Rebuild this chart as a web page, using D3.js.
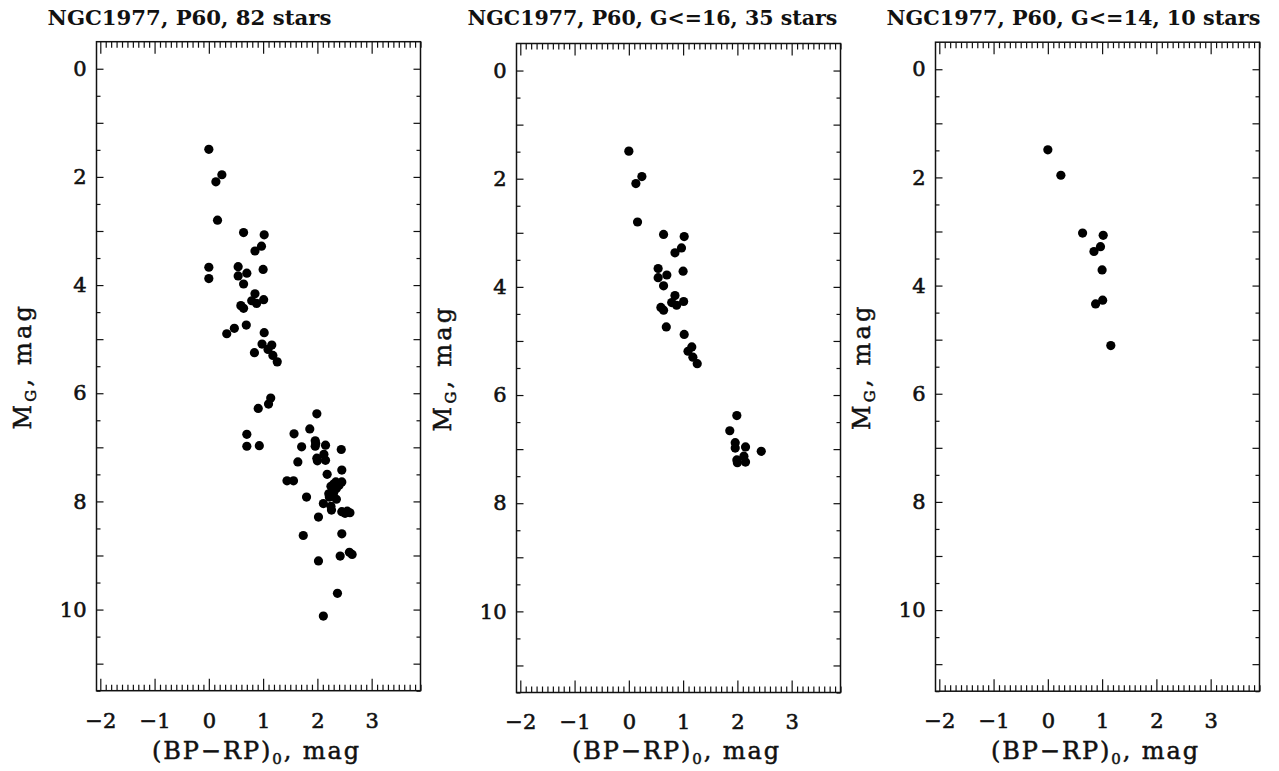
<!DOCTYPE html>
<html><head><meta charset="utf-8">
<script src="https://cdn.jsdelivr.net/npm/d3@7"></script>
<style>body{margin:0;background:#fff}svg{display:block}</style>
</head><body>
<svg id="c" width="1279" height="771"></svg>
<script>
// ---- data ----
const titles = ["NGC1977, P60, 82 stars", "NGC1977, P60, G<=16, 35 stars", "NGC1977, P60, G<=14, 10 stars"];
const xTickLabels = [-2, -1, 0, 1, 2, 3];
const yTickLabels = [0, 2, 4, 6, 8, 10];

const p1x = [0.00,0.24,0.13,0.16,0.64,1.02,0.97,0.85,0.00,0.00,0.54,0.54,0.70,1.00,0.64,0.85,1.01,0.79,0.88,0.59,
  0.64,0.69,0.47,0.33,1.02,0.98,1.16,1.09,0.84,1.18,1.26,1.14,1.10,0.91,0.70,1.57,1.86,1.99,0.70,0.93,
  1.71,1.96,1.96,2.15,1.99,2.15,2.12,1.64,2.18,1.44,1.56,1.80,2.11,2.02,1.74,2.02,2.11,2.44,2.45,2.34,
  2.45,2.25,2.35,2.21,2.35,2.25,2.26,2.45,2.51,2.60,2.45,2.59,2.64,2.42,2.37,2.00,2.30,2.40,2.30,2.55,
  2.22,1.97];
const p1y = [1.49,1.96,2.09,2.80,3.03,3.07,3.28,3.37,3.67,3.88,3.66,3.83,3.78,3.71,3.98,4.16,4.27,4.29,4.34,4.38,
  4.43,4.74,4.80,4.90,4.88,5.09,5.11,5.19,5.25,5.30,5.42,6.09,6.20,6.28,6.76,6.75,6.66,6.38,6.98,6.97,
  6.99,6.88,6.98,6.96,7.20,7.24,7.13,7.27,7.50,7.62,7.62,7.92,8.04,8.29,8.63,9.10,10.12,7.04,7.42,7.64,
  7.64,7.72,7.76,7.86,7.96,8.09,8.16,8.19,8.22,8.21,8.60,8.94,8.98,9.01,9.70,7.25,7.68,7.70,7.84,8.18,
  7.92,6.93];

const p2x = [0.00,0.24,0.13,0.16,0.64,1.02,0.97,0.85,0.54,0.54,0.70,1.00,0.64,0.85,1.01,0.79,0.88,0.59,0.64,0.69,
  1.02,1.16,1.09,1.18,1.26,1.99,1.86,1.96,1.96,2.15,2.44,1.99,2.12,2.15,2.00];
const p2y = [1.49,1.96,2.09,2.80,3.03,3.07,3.28,3.37,3.66,3.83,3.78,3.71,3.98,4.16,4.27,4.29,4.34,4.38,4.43,4.74,
  4.88,5.11,5.19,5.30,5.42,6.38,6.66,6.88,6.98,6.96,7.04,7.20,7.13,7.24,7.25];

const p3x = [0.00,0.24,0.64,1.02,0.97,0.85,1.00,1.01,0.88,1.16];
const p3y = [1.49,1.96,3.03,3.07,3.28,3.37,3.71,4.27,4.34,5.11];

const xDomain = [-2.07, 3.9];
const yDomain = [-0.5, 11.5];

// ---- layout ----
const lefts = [96.5, 516.5, 935.5];
const tops = [41.7, 43.5, 42.2];
const pw = 324, ph = 649;
const titleWidths = [284, 370, 374];

const svg = d3.select("#c");
const font = "'DejaVu Serif', serif";
const ink = "#111";
const series = [[p1x,p1y],[p2x,p2y],[p3x,p3y]];

const minorX = d3.range(-20, 40).map(d => d/10).filter(d => Math.abs(d - Math.round(d)) > 1e-6);
const majorY = d3.range(0, 12);
const minorY = d3.range(0, 12).map(d => d + 0.5);

function fitSpacing(t, target) {
  const w = t.node().getComputedTextLength();
  const n = t.text().length;
  t.attr("letter-spacing", Math.max(0, (target - w) / n));
}

series.forEach(([xs, ys], i) => {
  const g = svg.append("g").attr("transform", `translate(${lefts[i]},${tops[i]})`);
  const x = d3.scaleLinear().domain(xDomain).range([0, pw]);
  const y = d3.scaleLinear().domain(yDomain).range([0, ph]);

  const style = sel => { sel.select(".domain").remove(); sel.selectAll("line").attr("stroke", ink).attr("stroke-width", 1.2); };
  const lab = s => s.selectAll("text").attr("font-family", font).attr("font-size", 21)
      .attr("fill", ink).attr("stroke", ink).attr("stroke-width", 0.6);

  // bottom axis
  g.append("g").attr("transform", `translate(0,${ph})`)
    .call(d3.axisBottom(x).tickValues(minorX).tickSize(-6).tickFormat("")).call(style);
  g.append("g").attr("transform", `translate(0,${ph})`)
    .call(d3.axisBottom(x).tickValues(xTickLabels).tickSize(-12).tickPadding(22)
      .tickFormat(d => d < 0 ? "\u2212" + Math.abs(d) : String(d)))
    .call(style).call(lab);
  // top axis
  g.append("g").call(d3.axisTop(x).tickValues(minorX).tickSize(-6).tickFormat("")).call(style);
  g.append("g").call(d3.axisTop(x).tickValues(xTickLabels).tickSize(-12).tickFormat("")).call(style);
  // left axis
  g.append("g").call(d3.axisLeft(y).tickValues(minorY).tickSize(-4).tickFormat("")).call(style);
  g.append("g").call(d3.axisLeft(y).tickValues(majorY).tickSize(-7).tickPadding(10)
      .tickFormat(d => yTickLabels.includes(d) ? String(d) : ""))
    .call(style).call(lab);
  // right axis
  g.append("g").attr("transform", `translate(${pw},0)`)
    .call(d3.axisRight(y).tickValues(minorY).tickSize(-4).tickFormat("")).call(style);
  g.append("g").attr("transform", `translate(${pw},0)`)
    .call(d3.axisRight(y).tickValues(majorY).tickSize(-7).tickFormat("")).call(style);

  // frame
  g.append("rect").attr("width", pw).attr("height", ph)
    .attr("fill", "none").attr("stroke", ink).attr("stroke-width", 1.5);

  // points
  g.append("g").selectAll("circle").data(d3.range(xs.length)).join("circle")
    .attr("cx", k => x(xs[k])).attr("cy", k => y(ys[k])).attr("r", 4.6).attr("fill", "#000");

  // title
  const t = svg.append("text").attr("x", lefts[i] - 49).attr("y", 25)
    .attr("font-family", font).attr("font-weight", "bold").attr("font-size", 18)
    .attr("fill", ink).text(titles[i]);
  const w = t.node().getComputedTextLength();
  t.attr("font-size", 18 * titleWidths[i] / w);

  // x label
  const xl = svg.append("text").attr("x", lefts[i] + pw/2 - 2).attr("y", 759)
    .attr("text-anchor", "middle").attr("font-family", font).attr("font-size", 24)
    .attr("fill", ink).attr("stroke", ink).attr("stroke-width", 0.5);
  xl.append("tspan").text("(BP\u2212RP)");
  xl.append("tspan").attr("font-size", 15).attr("dy", 5).text("0");
  xl.append("tspan").attr("dy", -5).text(",  mag");
  fitSpacing(xl, 211);

  // y label
  const yl = svg.append("text")
    .attr("transform", `translate(${lefts[i] - 66},${tops[i] + ph/2}) rotate(-90)`)
    .attr("text-anchor", "middle").attr("font-family", font).attr("font-size", 24)
    .attr("fill", ink).attr("stroke", ink).attr("stroke-width", 0.5);
  yl.append("tspan").text("M");
  yl.append("tspan").attr("font-size", 15).attr("dy", 5).text("G");
  yl.append("tspan").attr("dy", -5).text(",  mag");
  fitSpacing(yl, 130);
});
</script>
</body></html>
